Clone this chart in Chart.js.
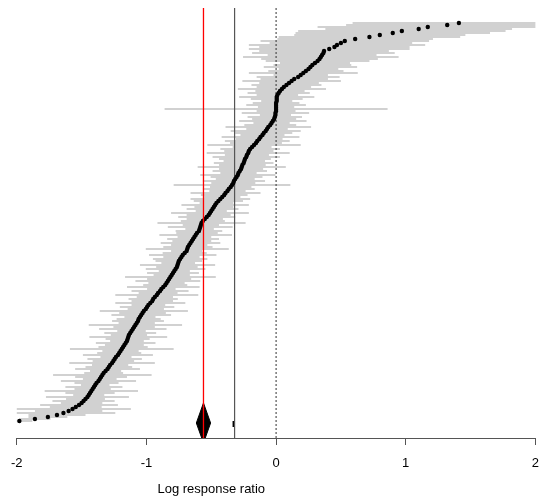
<!DOCTYPE html>
<html lang="en">
<head>
  <meta charset="UTF-8" />
  <title>Log response ratio - forest plot</title>
  <script src="https://cdn.jsdelivr.net/npm/chart.js"></script>
  <style>
    body {
      margin: 0;
      background: #ffffff;
    }

    .chart-container {
      width: 550px;
      height: 500px;
    }
  </style>
</head>
<body>
  <div class="chart-container">
    <canvas id="forestChart" width="550" height="500"></canvas>
  </div>

  <script>
    // study effect sizes, ordered bottom (row 0) to top
    const est = [
      -1.98, -1.86, -1.76, -1.69, -1.64, -1.60, -1.57, -1.545, -1.52, -1.50,
      -1.485, -1.47, -1.455, -1.445, -1.435, -1.425, -1.415, -1.405, -1.395, -1.385,
      -1.37, -1.36, -1.35, -1.34, -1.33, -1.315, -1.30, -1.29, -1.28, -1.265,
      -1.255, -1.245, -1.235, -1.22, -1.21, -1.20, -1.19, -1.18, -1.17, -1.16,
      -1.15, -1.145, -1.14, -1.135, -1.125, -1.115, -1.105, -1.095, -1.085, -1.075,
      -1.065, -1.06, -1.05, -1.04, -1.03, -1.02, -1.005, -0.995, -0.985, -0.97,
      -0.955, -0.948, -0.935, -0.92, -0.91, -0.895, -0.885, -0.87, -0.855, -0.845,
      -0.835, -0.825, -0.815, -0.805, -0.795, -0.785, -0.775, -0.765, -0.76, -0.755,
      -0.75, -0.74, -0.73, -0.72, -0.705, -0.69, -0.685, -0.68, -0.67, -0.66,
      -0.65, -0.64, -0.63, -0.62, -0.61, -0.595, -0.59, -0.585, -0.58, -0.575,
      -0.565, -0.55, -0.535, -0.52, -0.51, -0.50, -0.49, -0.48, -0.47, -0.46,
      -0.445, -0.43, -0.415, -0.40, -0.39, -0.375, -0.365, -0.35, -0.34, -0.33,
      -0.325, -0.315, -0.305, -0.295, -0.29, -0.28, -0.27, -0.265, -0.26, -0.25,
      -0.245, -0.24, -0.23, -0.225, -0.215, -0.21, -0.20, -0.185, -0.17, -0.155,
      -0.145, -0.13, -0.12, -0.105, -0.095, -0.08, -0.07, -0.06, -0.045, -0.035,
      -0.025, -0.015, -0.01, -0.005, -0.005, 0.0, 0.0, 0.0, 0.0, 0.0,
      0.005, 0.005, 0.005, 0.01, 0.02, 0.03, 0.045, 0.06, 0.08, 0.10,
      0.12, 0.14, 0.17, 0.19, 0.21, 0.23, 0.25, 0.265, 0.28, 0.30,
      0.32, 0.335, 0.345, 0.355, 0.365, 0.37, 0.41, 0.45, 0.47, 0.50,
      0.53, 0.61, 0.72, 0.80, 0.90, 0.97, 1.10, 1.17, 1.32, 1.41
    ];

    // half width of each 95% CI
    const err = [
      0.10, 0.12, 0.15, 0.22, 0.40, 0.26, 0.45, 0.20, 0.30, 0.16,
      0.24, 0.15, 0.32, 0.12, 0.19, 0.36, 0.14, 0.22, 0.11, 0.17,
      0.29, 0.13, 0.20, 0.38, 0.15, 0.12, 0.25, 0.18, 0.14, 0.33,
      0.16, 0.21, 0.12, 0.27, 0.17, 0.14, 0.40, 0.19, 0.15, 0.23,
      0.13, 0.17, 0.30, 0.14, 0.20, 0.11, 0.26, 0.16, 0.36, 0.14,
      0.20, 0.17, 0.12, 0.23, 0.18, 0.34, 0.14, 0.21, 0.13, 0.27,
      0.16, 0.19, 0.14, 0.32, 0.15, 0.22, 0.11, 0.28, 0.17, 0.14,
      0.25, 0.17, 0.35, 0.14, 0.20, 0.12, 0.23, 0.16, 0.29, 0.13,
      0.18, 0.21, 0.14, 0.26, 0.17, 0.12, 0.32, 0.19, 0.14, 0.23,
      0.15, 0.20, 0.13, 0.28, 0.16, 0.18, 0.11, 0.25, 0.14, 0.34,
      0.17, 0.14, 0.22, 0.17, 0.30, 0.12, 0.20, 0.15, 0.26, 0.13,
      0.19, 0.23, 0.14, 0.18, 0.27, 0.14, 0.20, 0.16, 0.45, 0.17,
      0.24, 0.15, 0.20, 0.29, 0.14, 0.21, 0.17, 0.34, 0.18, 0.23,
      0.16, 0.20, 0.26, 0.17, 0.32, 0.19, 0.23, 0.15, 0.36, 0.20,
      0.25, 0.18, 0.30, 0.17, 0.22, 0.27, 0.16, 0.33, 0.20, 0.14,
      0.26, 0.17, 0.21, 0.12, 0.26, 0.15, 0.86, 0.14, 0.23, 0.18,
      0.12, 0.20, 0.29, 0.16, 0.24, 0.19, 0.34, 0.21, 0.27, 0.23,
      0.38, 0.26, 0.32, 0.21, 0.42, 0.29, 0.23, 0.36, 0.30, 0.27,
      0.40, 0.45, 0.60, 0.42, 0.55, 0.50, 0.62, 0.58, 0.68, 0.55,
      0.65, 0.60, 0.70, 0.66, 0.75, 0.80, 0.72, 0.85, 0.78, 0.82
    ];

    const pooledEst = -0.56;   // red line + diamond
    const pooledLo = -0.615;
    const pooledHi = -0.505;
    const meanEst = -0.32;     // solid black line
    const nullEst = 0;         // dotted reference line

    const xTicks = [-2, -1, 0, 1, 2];
    const xTitle = 'Log response ratio';

    // 2px per study row
    const yMin = -8.5;
    const yMax = 206.5;

    // CI segments, broken by gaps
    const ciData = [];
    est.forEach((v, i) => {
      ciData.push({ x: v - err[i], y: i });
      ciData.push({ x: v + err[i], y: i });
      ciData.push({ x: null, y: null });
    });
    const pointData = est.map((v, i) => ({ x: v, y: i }));

    const vline = (x) => [{ x: x, y: yMin }, { x: x, y: yMax }];

    const titlePlugin = {
      id: 'axisTitle',
      afterDraw(chart) {
        const ctx = chart.ctx;
        const x = chart.scales.x.getPixelForValue(-0.5);
        ctx.save();
        ctx.font = '13px "Liberation Sans", Arial, sans-serif';
        ctx.fillStyle = '#000';
        ctx.textAlign = 'center';
        ctx.textBaseline = 'middle';
        ctx.fillText(xTitle, x, chart.chartArea.bottom + 51);
        ctx.restore();
      }
    };

    new Chart(document.getElementById('forestChart'), {
      type: 'scatter',
      data: {
        datasets: [
          {
            label: 'CI',
            data: ciData,
            showLine: true,
            spanGaps: false,
            borderColor: '#c2c2c2',
            borderWidth: 1.5,
            pointRadius: 0,
            order: 5
          },
          {
            label: 'null',
            data: vline(nullEst),
            showLine: true,
            borderColor: '#333',
            borderWidth: 1,
            borderDash: [2, 2],
            pointRadius: 0,
            order: 4
          },
          {
            label: 'mean',
            data: vline(meanEst),
            showLine: true,
            borderColor: '#555',
            borderWidth: 1.2,
            pointRadius: 0,
            order: 4
          },
          {
            label: 'mean mark',
            data: [{ x: meanEst - 0.008, y: 0 }, { x: meanEst - 0.008, y: -3 }],
            showLine: true,
            borderColor: '#000',
            borderWidth: 2,
            pointRadius: 0,
            order: 4
          },
          {
            label: 'studies',
            data: pointData,
            pointRadius: 2.2,
            pointBackgroundColor: '#000',
            pointBorderWidth: 0,
            order: 2
          },
          {
            label: 'pooled',
            data: [
              { x: pooledEst, y: 9 },
              { x: pooledHi, y: -1 },
              { x: pooledEst, y: -11 },
              { x: pooledLo, y: -1 },
              { x: pooledEst, y: 9 }
            ],
            showLine: true,
            fill: 'shape',
            borderColor: '#000',
            backgroundColor: '#000',
            borderWidth: 1,
            pointRadius: 0,
            tension: 0,
            order: 1
          },
          {
            label: 'pooled line',
            data: vline(pooledEst),
            showLine: true,
            borderColor: '#ff0000',
            borderWidth: 1.3,
            pointRadius: 0,
            order: 0
          }
        ]
      },
      options: {
        responsive: false,
        animation: false,
        events: [],
        layout: {
          padding: { top: 8, left: 11, right: 12, bottom: 0 }
        },
        plugins: {
          legend: { display: false },
          tooltip: { enabled: false }
        },
        scales: {
          x: {
            type: 'linear',
            min: -2,
            max: 2,
            afterFit(scale) { scale.height = 62; },
            border: { display: true, color: '#555', width: 1 },
            grid: {
              drawOnChartArea: false,
              drawTicks: true,
              tickLength: 7,
              color: '#555'
            },
            ticks: {
              stepSize: 1,
              padding: 11,
              color: '#000',
              font: { family: '"Liberation Sans", Arial, sans-serif', size: 13 },
              maxRotation: 0,
              callback: (v) => (xTicks.includes(v) ? String(v) : '')
            }
          },
          y: {
            type: 'linear',
            min: yMin,
            max: yMax,
            display: false
          }
        }
      },
      plugins: [titlePlugin]
    });
  </script>
</body>
</html>
